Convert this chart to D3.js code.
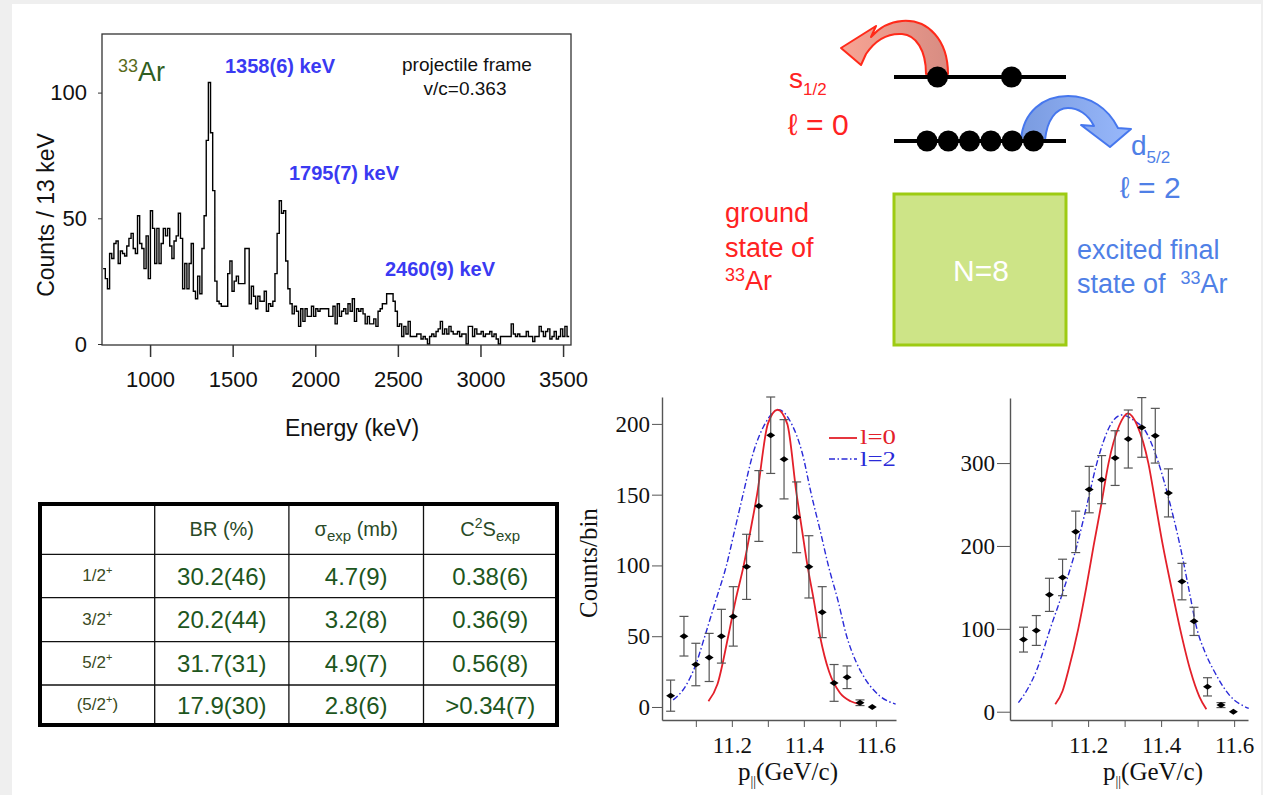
<!DOCTYPE html>
<html>
<head>
<meta charset="utf-8">
<script src="https://cdn.jsdelivr.net/npm/d3@7"></script>
<style>
  body { margin: 0; background: #efefef; }
  svg { display: block; }
</style>
</head>
<body>
<svg id="chart" width="1263" height="795"></svg>
<script>
const SANS = "Arial, 'Liberation Sans', sans-serif";
const SERIF = "'Times New Roman', 'Liberation Serif', serif";

// gamma spectrum of 33Ar, counts per 13 keV bin starting at 716 keV
const specStart = 716;
const specBin = 13;
const specCounts = [
  30, 26, 22, 36, 34, 40, 41, 32, 37, 36, 35, 39, 42, 44, 38, 36, 51, 40, 38, 30,
  43, 26, 53, 46, 32, 46, 32, 40, 46, 43, 46, 39, 34, 41, 43, 52, 42, 22, 32, 22,
  32, 40, 21, 18, 27, 20, 38, 51, 81, 104, 84, 61, 25, 17, 16,
  15, 15, 15, 28, 33, 21, 25, 27, 24, 24, 24, 38, 38, 16, 23, 19, 14, 19, 17, 17,
  21, 13, 16, 15, 17, 28, 44, 57, 52, 53, 33, 22, 16, 12, 15, 13, 7, 14, 9, 14,
  11, 11, 15, 11, 14, 13, 14, 14, 14, 14, 11, 11, 15, 8,
  16, 11, 13, 14, 12, 16, 13, 18, 9, 14, 13, 14, 12, 8, 11, 8, 8, 10, 7, 13,
  14, 16, 16, 20, 20, 20, 17, 13, 7, 8, 3, 7, 4, 9, 3, 3, 3, 4, 4, 2,
  3, 2, 0, 3, 4, 3, 5, 6, 9, 4, 6, 4, 7, 5, 4,
  4, 5, 3, 4, 4, 0, 7, 7, 3, 6, 4, 4, 5, 3, 4, 4, 5, 3, 4, 2,
  0, 3, 3, 3, 3, 3, 8, 4, 3, 4, 3, 3, 3, 5, 3, 3, 1, 3, 3, 7,
  5, 3, 5, 6, 2, 3, 5, 2, 3, 6, 3, 7, 3
];
const specXTicks = [1000, 1500, 2000, 2500, 3000, 3500];
const specYTicks = [0, 50, 100];
const peakLabels = ["1358(6) keV", "1795(7) keV", "2460(9) keV"];

// momentum distributions
const pA_x = [11.03, 11.067, 11.1, 11.137, 11.171, 11.204, 11.241, 11.275, 11.308, 11.345, 11.38, 11.414, 11.451, 11.484, 11.52, 11.556, 11.59];
const pA_y = [8, 50, 30, 35, 50, 64, 99, 142, 192, 175, 134, 99, 67, 17, 21, 3, 0];
const pA_err = [11, 14, 15, 17, 19, 21, 23, 25, 27, 28, 25, 22, 18, 13, 8, 2, 0];
const pA_l0 = [[11.135, 4], [11.16, 16], [11.19, 50], [11.21, 75], [11.233, 100], [11.252, 125], [11.27, 150], [11.3, 200], [11.327, 210], [11.354, 200], [11.38, 150], [11.395, 125], [11.41, 100], [11.428, 75], [11.445, 50], [11.47, 25], [11.5, 10], [11.53, 4], [11.556, 2]];
const pA_l2 = [[11.037, 5], [11.067, 13], [11.1, 30], [11.125, 50], [11.155, 75], [11.185, 100], [11.208, 125], [11.231, 150], [11.26, 180], [11.292, 200], [11.33, 210], [11.366, 200], [11.395, 180], [11.421, 150], [11.445, 125], [11.468, 100], [11.495, 75], [11.519, 50], [11.545, 32], [11.57, 20], [11.61, 8], [11.655, 2]];

const pB_x = [11.023, 11.058, 11.094, 11.13, 11.166, 11.203, 11.237, 11.274, 11.31, 11.347, 11.384, 11.42, 11.457, 11.49, 11.527, 11.564, 11.598];
const pB_y = [87, 98, 141, 162, 217, 268, 280, 306, 329, 343, 333, 264, 157, 109, 30, 8, 0];
const pB_err = [15, 18, 20, 22, 25, 28, 29, 33, 35, 36, 33, 29, 22, 17, 11, 3, 0];
const pB_l0 = [[11.11, 9], [11.13, 25], [11.146, 50], [11.173, 100], [11.195, 150], [11.215, 200], [11.236, 250], [11.256, 300], [11.285, 345], [11.309, 360], [11.335, 345], [11.365, 300], [11.385, 250], [11.405, 200], [11.428, 150], [11.452, 100], [11.48, 50], [11.505, 18], [11.524, 3]];
const pB_l2 = [[11.009, 11], [11.035, 28], [11.059, 50], [11.096, 100], [11.135, 150], [11.169, 200], [11.197, 250], [11.224, 300], [11.26, 345], [11.292, 358], [11.33, 350], [11.355, 340], [11.393, 300], [11.425, 250], [11.452, 200], [11.475, 150], [11.498, 100], [11.52, 72], [11.544, 50], [11.587, 20], [11.64, 4]];

const pXTicks = [11.1, 11.2, 11.3, 11.4, 11.5, 11.6];
const pXLabels = [11.2, 11.4, 11.6];

// table
const tableRows = ["1/2", "3/2", "5/2", "(5/2)"];
const brVals = ["30.2(46)", "20.2(44)", "31.7(31)", "17.9(30)"];
const sigVals = ["4.7(9)", "3.2(8)", "4.9(7)", "2.8(6)"];
const c2sVals = ["0.38(6)", "0.36(9)", "0.56(8)", ">0.34(7)"];

const svg = d3.select("#chart");
svg.append("rect").attr("x", 12).attr("y", 4).attr("width", 1249).attr("height", 791).attr("fill", "#fff");

// ---------- spectrum ----------
const xE = d3.scaleLinear().domain([709, 3548]).range([102, 571]);
const yC = d3.scaleLinear().domain([0, 100]).range([344, 92.6]);

const spec = svg.append("g");
const pts = specCounts.map((c, i) => [specStart + i * specBin, c]);
pts.push([specStart + specCounts.length * specBin, specCounts[specCounts.length - 1]]);
spec.append("path")
  .attr("d", d3.line().x(d => xE(d[0])).y(d => yC(d[1])).curve(d3.curveStepAfter)(pts))
  .attr("fill", "none").attr("stroke", "#000").attr("stroke-width", 1.4);

spec.append("rect").attr("x", 102).attr("y", 34).attr("width", 469).attr("height", 311)
  .attr("fill", "none").attr("stroke", "#333").attr("stroke-width", 1.3);

spec.append("g").attr("transform", "translate(0,345)")
  .call(d3.axisBottom(xE).tickValues(specXTicks).tickFormat(d3.format("d"))
    .tickSize(12).tickSizeOuter(0).tickPadding(14))
  .call(g => g.select(".domain").remove())
  .call(g => g.selectAll("line").attr("stroke", "#333").attr("stroke-width", 1.5))
  .call(g => g.selectAll("text").attr("font-family", SANS).attr("font-size", 22).attr("fill", "#111"));

spec.append("g").attr("transform", "translate(102,0)")
  .call(d3.axisLeft(yC).tickValues(specYTicks).tickSize(4).tickSizeOuter(0).tickPadding(11))
  .call(g => g.select(".domain").remove())
  .call(g => g.selectAll("line").attr("stroke", "#333"))
  .call(g => g.selectAll("text").attr("font-family", SANS).attr("font-size", 22).attr("fill", "#111"));

spec.append("text").attr("transform", "translate(54,215) rotate(-90)")
  .attr("text-anchor", "middle").attr("font-family", SANS).attr("font-size", 23).attr("fill", "#111")
  .text("Counts / 13 keV");
spec.append("text").attr("x", 352).attr("y", 436)
  .attr("text-anchor", "middle").attr("font-family", SANS).attr("font-size", 23).attr("fill", "#111")
  .text("Energy (keV)");

const ar = spec.append("text").attr("x", 118).attr("y", 81).attr("font-family", SANS).attr("fill", "#2f5e22");
ar.append("tspan").attr("font-size", 18).attr("dy", -9).attr("fill", "#5a6a1c").text("33");
ar.append("tspan").attr("font-size", 27).attr("dy", 9).text("Ar");

[[225, 73], [289, 180], [385, 276]].forEach(([x, y], i) => {
  spec.append("text").attr("x", x).attr("y", y).attr("font-family", SANS).attr("font-size", 20)
    .attr("font-weight", "bold").attr("fill", "#3a3af2").text(peakLabels[i]);
});
spec.append("text").attr("x", 467).attr("y", 71).attr("text-anchor", "middle")
  .attr("font-family", SANS).attr("font-size", 19).attr("fill", "#111").text("projectile frame");
spec.append("text").attr("x", 465).attr("y", 95).attr("text-anchor", "middle")
  .attr("font-family", SANS).attr("font-size", 19).attr("fill", "#111").text("v/c=0.363");

// ---------- level diagram ----------
const dia = svg.append("g");
const grad = (id, a, b) => {
  const lg = svg.append("defs").append("linearGradient").attr("id", id)
    .attr("x1", "0").attr("x2", "1").attr("y1", "0").attr("y2", "0");
  lg.append("stop").attr("offset", "0").attr("stop-color", a);
  lg.append("stop").attr("offset", "1").attr("stop-color", b);
};
grad("redArrow", "#f8a494", "#d78c82");
grad("blueArrow", "#7a9be0", "#98b8fb");

dia.append("path")
  .attr("d", "M948,74 C948,40 928,19 902,21 C888,22 878,29 871,37 L876,26 L841,48 L861,65 L866,54 C874,42 886,33 902,34 C916,35 926,50 926,74 Z")
  .attr("fill", "url(#redArrow)").attr("stroke", "#ff2a1a").attr("stroke-width", 2).attr("stroke-linejoin", "round");
dia.append("path")
  .attr("d", "M1021,140 C1023,112 1043,96 1068,96 C1090,96 1108,108 1118,128 L1131,129 L1110,147 L1081,125 L1094,126 C1088,114 1078,108 1068,108 C1056,108 1047,120 1045,140 Z")
  .attr("fill", "url(#blueArrow)").attr("stroke", "#4677ee").attr("stroke-width", 2).attr("stroke-linejoin", "round");

dia.append("line").attr("x1", 894).attr("x2", 1066).attr("y1", 77).attr("y2", 77).attr("stroke", "#000").attr("stroke-width", 4);
dia.append("line").attr("x1", 894).attr("x2", 1066).attr("y1", 141).attr("y2", 141).attr("stroke", "#000").attr("stroke-width", 4);
[937.5, 1011.5].forEach(cx => dia.append("circle").attr("cx", cx).attr("cy", 77).attr("r", 10.5).attr("fill", "#000"));
[927, 948.3, 969.6, 990.9, 1012.2, 1033.5].forEach(cx => dia.append("circle").attr("cx", cx).attr("cy", 141).attr("r", 10.5).attr("fill", "#000"));

const RED = "#ff2222", BLUE = "#4f80e6";
const s12 = dia.append("text").attr("x", 789).attr("y", 88).attr("font-family", SANS).attr("fill", RED);
s12.append("tspan").attr("font-size", 28).text("s");
s12.append("tspan").attr("font-size", 17).attr("dy", 7).text("1/2");
dia.append("text").attr("x", 788).attr("y", 135).attr("font-family", SANS).attr("font-size", 30).attr("fill", RED).text("ℓ = 0");
const d52 = dia.append("text").attr("x", 1131).attr("y", 155).attr("font-family", SANS).attr("fill", BLUE);
d52.append("tspan").attr("font-size", 28).text("d");
d52.append("tspan").attr("font-size", 17).attr("dy", 8).text("5/2");
dia.append("text").attr("x", 1120).attr("y", 198).attr("font-family", SANS).attr("font-size", 30).attr("fill", BLUE).text("ℓ = 2");

dia.append("rect").attr("x", 894).attr("y", 194).attr("width", 172).attr("height", 151)
  .attr("fill", "#cde487").attr("stroke", "#9dcb12").attr("stroke-width", 3);
dia.append("text").attr("x", 981).attr("y", 281).attr("text-anchor", "middle")
  .attr("font-family", SANS).attr("font-size", 30).attr("fill", "#fff").text("N=8");

["ground", "state of"].forEach((t, i) => dia.append("text").attr("x", 725).attr("y", 222 + i * 35)
  .attr("font-family", SANS).attr("font-size", 27).attr("fill", RED).text(t));
const gAr = dia.append("text").attr("x", 725).attr("y", 290).attr("font-family", SANS).attr("fill", RED);
gAr.append("tspan").attr("font-size", 18).attr("dy", -9).text("33");
gAr.append("tspan").attr("font-size", 27).attr("dy", 9).text("Ar");

dia.append("text").attr("x", 1077).attr("y", 259).attr("font-family", SANS).attr("font-size", 27).attr("fill", BLUE).text("excited final");
const eAr = dia.append("text").attr("x", 1077).attr("y", 293).attr("font-family", SANS).attr("fill", BLUE);
eAr.append("tspan").attr("font-size", 27).text("state of\u00a0\u00a0");
eAr.append("tspan").attr("font-size", 18).attr("dy", -9).text("33");
eAr.append("tspan").attr("font-size", 27).attr("dy", 9).text("Ar");

// ---------- table ----------
const tab = svg.append("g");
const colX = [40, 154.7, 288.9, 423.5, 557];
const rowY = [504, 554.3, 597.7, 641.7, 685, 725];
colX.slice(1, 4).forEach(x => tab.append("line").attr("x1", x).attr("x2", x).attr("y1", 504).attr("y2", 725).attr("stroke", "#111").attr("stroke-width", 1.3));
rowY.slice(1, 5).forEach(y => tab.append("line").attr("x1", 40).attr("x2", 557).attr("y1", y).attr("y2", y).attr("stroke", "#111").attr("stroke-width", 1.3));
tab.append("rect").attr("x", 40).attr("y", 504).attr("width", 517).attr("height", 221)
  .attr("fill", "none").attr("stroke", "#000").attr("stroke-width", 4);

const HEAD = "#294a27", VAL = "#1d561d", ROWC = "#3a4a22";
const cx = i => (colX[i] + colX[i + 1]) / 2;
const cy = j => (rowY[j] + rowY[j + 1]) / 2;
tab.append("text").attr("x", cx(1)).attr("y", cy(0) + 7).attr("text-anchor", "middle")
  .attr("font-family", SANS).attr("font-size", 20).attr("fill", HEAD).text("BR (%)");
const hs = tab.append("text").attr("x", cx(2)).attr("y", cy(0) + 7).attr("text-anchor", "middle")
  .attr("font-family", SANS).attr("font-size", 20).attr("fill", HEAD);
hs.append("tspan").text("σ");
hs.append("tspan").attr("font-size", 15).attr("dy", 5).text("exp");
hs.append("tspan").attr("dy", -5).text(" (mb)");
const hc = tab.append("text").attr("x", cx(3)).attr("y", cy(0) + 7).attr("text-anchor", "middle")
  .attr("font-family", SANS).attr("font-size", 20).attr("fill", HEAD);
hc.append("tspan").text("C");
hc.append("tspan").attr("font-size", 14).attr("dy", -8).text("2");
hc.append("tspan").attr("dy", 8).text("S");
hc.append("tspan").attr("font-size", 15).attr("dy", 5).text("exp");

tableRows.forEach((r, j) => {
  const t = tab.append("text").attr("x", cx(0)).attr("y", cy(j + 1) + 5).attr("text-anchor", "middle")
    .attr("font-family", SANS).attr("font-size", 17).attr("fill", ROWC);
  const paren = r.startsWith("(");
  t.append("tspan").text(paren ? r.slice(0, -1) : r);
  t.append("tspan").attr("font-size", 11).attr("dy", -7).text("+");
  if (paren) t.append("tspan").attr("dy", 7).text(")");
  [brVals, sigVals, c2sVals].forEach((vals, i) => {
    tab.append("text").attr("x", cx(i + 1)).attr("y", cy(j + 1) + 8.5).attr("text-anchor", "middle")
      .attr("font-family", SANS).attr("font-size", 24).attr("fill", VAL).text(vals[j]);
  });
});

// ---------- momentum panels ----------
function panel(o) {
  const g = svg.append("g");
  const x = d3.scaleLinear().domain(o.xDom).range(o.xRange);
  const y = d3.scaleLinear().domain(o.yDom).range(o.yRange);

  g.append("g").attr("transform", `translate(0,${o.yRange[0]})`)
    .call(d3.axisBottom(x).tickValues(pXTicks).tickSize(7).tickSizeOuter(0).tickPadding(10)
      .tickFormat(d => pXLabels.includes(d) ? d.toFixed(1) : ""))
    .call(g => g.select(".domain").attr("stroke", "#555").attr("stroke-width", 1.4))
    .call(g => g.selectAll("line").attr("stroke", "#555"))
    .call(g => g.selectAll("text").attr("font-family", SERIF).attr("font-size", 23).attr("fill", "#111"));
  g.append("g").attr("transform", `translate(${o.xRange[0]},0)`)
    .call(d3.axisLeft(y).tickValues(o.yTicks).tickSize(o.tick).tickSizeOuter(0).tickPadding(2))
    .call(g => g.select(".domain").attr("stroke", "#555").attr("stroke-width", 1.4))
    .call(g => g.selectAll("line").attr("stroke", "#555"))
    .call(g => g.selectAll("text").attr("font-family", SERIF).attr("font-size", 23).attr("fill", "#111"));

  const line = d3.line().x(d => x(d[0])).y(d => y(d[1])).curve(d3.curveMonotoneX);
  g.append("path").attr("d", line(o.l2)).attr("fill", "none").attr("stroke", "#2a2ad8")
    .attr("stroke-width", 1.4).attr("stroke-dasharray", "6,2.5,1.5,2.5");
  g.append("path").attr("d", line(o.l0)).attr("fill", "none").attr("stroke", "#e3202a").attr("stroke-width", 1.8);

  o.px.forEach((px, i) => {
    const e = o.pe[i];
    if (e > 0) {
      g.append("line").attr("x1", x(px)).attr("x2", x(px)).attr("y1", y(o.py[i] - e)).attr("y2", y(o.py[i] + e))
        .attr("stroke", "#555").attr("stroke-width", 1.2);
      [-e, e].forEach(s => g.append("line").attr("x1", x(px) - 4.5).attr("x2", x(px) + 4.5)
        .attr("y1", y(o.py[i] + s)).attr("y2", y(o.py[i] + s)).attr("stroke", "#555").attr("stroke-width", 1.2));
    }
    g.append("path").attr("transform", `translate(${x(px)},${y(o.py[i])})`)
      .attr("d", "M-4.5,0L0,-3L4.5,0L0,3Z").attr("fill", "#000");
  });

  const xl = g.append("text").attr("x", o.xlx).attr("y", 780).attr("text-anchor", "middle")
    .attr("font-family", SERIF).attr("font-size", 25).attr("fill", "#111");
  xl.append("tspan").text("p");
  xl.append("tspan").attr("font-size", 14).attr("dy", 6).text("||");
  xl.append("tspan").attr("dy", -6).text("(GeV/c)");
  return { g, x, y };
}

const A = panel({ xDom: [11.006, 11.656], xRange: [662, 896], yDom: [-9.2, 219], yRange: [720, 397],
  yTicks: [0, 50, 100, 150, 200], tick: 10, px: pA_x, py: pA_y, pe: pA_err, l0: pA_l0, l2: pA_l2, xlx: 788 });
const B = panel({ xDom: [10.986, 11.638], xRange: [1010, 1248], yDom: [-10, 378.5], yRange: [720, 398],
  yTicks: [0, 100, 200, 300], tick: 13, px: pB_x, py: pB_y, pe: pB_err, l0: pB_l0, l2: pB_l2, xlx: 1153 });

svg.append("text").attr("transform", "translate(597,563) rotate(-90)").attr("text-anchor", "middle")
  .attr("font-family", SERIF).attr("font-size", 25).attr("fill", "#111").text("Counts/bin");

// legend
A.g.append("line").attr("x1", 829).attr("x2", 857).attr("y1", 438).attr("y2", 438).attr("stroke", "#e3202a").attr("stroke-width", 1.8);
A.g.append("line").attr("x1", 829).attr("x2", 857).attr("y1", 459).attr("y2", 459).attr("stroke", "#2a2ad8")
  .attr("stroke-width", 1.4).attr("stroke-dasharray", "6,2.5,1.5,2.5");
A.g.append("text").attr("x", 860).attr("y", 444).attr("font-family", SERIF).attr("font-size", 20)
  .attr("textLength", 36).attr("lengthAdjust", "spacingAndGlyphs").attr("fill", "#e3202a").text("l=0");
A.g.append("text").attr("x", 860).attr("y", 466).attr("font-family", SERIF).attr("font-size", 20)
  .attr("textLength", 36).attr("lengthAdjust", "spacingAndGlyphs").attr("fill", "#2a2ad8").text("l=2");
</script>
</body>
</html>
